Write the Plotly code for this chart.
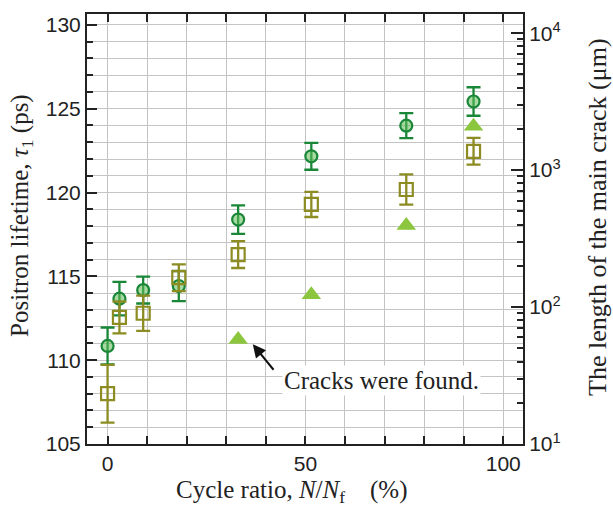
import plotly.graph_objects as go

# ---- data ----
cycle_ratio = [0, 3, 9, 18, 33, 51.5, 75.5, 92.5]
lifetime_circle = [110.85, 113.67, 114.18, 114.42, 118.39, 122.16, 123.99, 125.43]
lifetime_circle_err = [1.1, 1.0, 0.8, 0.9, 0.85, 0.8, 0.75, 0.85]
lifetime_square = [108.0, 112.55, 112.8, 114.92, 116.3, 119.29, 120.18, 122.46]
lifetime_square_err = [1.72, 0.95, 1.05, 0.8, 0.8, 0.75, 0.9, 0.8]
crack_ratio = [33, 51.5, 75.5, 92.5]
crack_length = [58, 123, 394, 2094]

x_tick_labels = ["0", "50", "100"]
y2_tick_vals = [10, 100, 1000, 10000]
y2_tick_text = ["10<sup>1</sup>", "10<sup>2</sup>", "10<sup>3</sup>", "10<sup>4</sup>"]
y2_minor_vals = [m * 10 ** k for k in range(1, 4) for m in range(2, 10)]

SANS = "Liberation Sans, Arial, sans-serif"
SERIF = "Liberation Serif, Times New Roman, serif"
DARK_GREEN = "rgb(25,135,55)"
OLIVE = "rgb(140,140,35)"
LIGHT_GREEN = "rgb(140,198,63)"
GRID = "#c4c4c4"

fig = go.Figure()

fig.add_trace(go.Scatter(
    x=cycle_ratio, y=lifetime_circle, mode="markers",
    error_y=dict(type="data", array=lifetime_circle_err, color=DARK_GREEN,
                 thickness=2.3, width=7),
    marker=dict(symbol="circle", size=12, color="rgba(95,185,85,0.55)",
                line=dict(color=DARK_GREEN, width=2.2)),
    showlegend=False))

fig.add_trace(go.Scatter(
    x=cycle_ratio, y=lifetime_square, mode="markers",
    error_y=dict(type="data", array=lifetime_square_err, color=OLIVE,
                 thickness=2.3, width=7),
    marker=dict(symbol="square-open", size=13, color=OLIVE,
                line=dict(color=OLIVE, width=2.2)),
    showlegend=False))

fig.add_trace(go.Scatter(
    x=crack_ratio, y=crack_length, mode="markers", yaxis="y2",
    marker=dict(symbol="triangle-up", size=17, color=LIGHT_GREEN),
    showlegend=False))

fig.update_layout(
    width=613, height=507,
    margin=dict(l=87, r=90, t=14, b=63),
    paper_bgcolor="white", plot_bgcolor="white",
    font=dict(family=SANS, size=21, color="#222"),
    xaxis=dict(
        range=[-5.2, 105], tickmode="array",
        tickvals=[0, 50, 100], ticktext=x_tick_labels,
        ticks="inside", ticklen=8, tickwidth=1.5, tickcolor="#222",
        showline=True, linecolor="#222", linewidth=2, mirror="ticks",
        showgrid=True, gridcolor=GRID, gridwidth=1.2,
        minor=dict(dtick=10, tick0=0, ticks="inside", ticklen=8, tickwidth=1.5,
                   tickcolor="#222", showgrid=True, gridcolor=GRID, gridwidth=1.2),
        zeroline=False, tickfont=dict(family=SANS, size=21, color="#222"),
    ),
    yaxis=dict(
        range=[105, 130.65], dtick=5, tick0=105,
        ticks="inside", ticklen=10, tickwidth=1.5, tickcolor="#222",
        showline=True, linecolor="#222", linewidth=2,
        showgrid=True, gridcolor=GRID, gridwidth=1.2,
        minor=dict(dtick=1, ticks="inside", ticklen=6, tickwidth=1.5,
                   tickcolor="#222", showgrid=True, gridcolor=GRID, gridwidth=1.2),
        zeroline=False, tickfont=dict(family=SANS, size=21, color="#222"),
    ),
    yaxis2=dict(
        type="log", range=[1, 4.14], overlaying="y", side="right",
        tickmode="array", tickvals=y2_tick_vals, ticktext=y2_tick_text,
        ticks="inside", ticklen=12, tickwidth=1.5, tickcolor="#222",
        showline=True, linecolor="#222", linewidth=2,
        showgrid=False, zeroline=False,
        minor=dict(tickmode="array", tickvals=y2_minor_vals, ticks="inside",
                   ticklen=6, tickwidth=1.5, tickcolor="#222", showgrid=False),
        tickfont=dict(family=SANS, size=21, color="#222"),
    ),
)

# axis titles
fig.add_annotation(
    text="Cycle ratio, <i>N</i>/<i>N</i><sub>f</sub>\u00a0\u00a0\u00a0\u00a0(%)",
    xref="paper", yref="paper", x=(292 - 87) / (523 - 87), y=-(491 - 444) / 430,
    xanchor="center", yanchor="middle", showarrow=False,
    font=dict(family=SERIF, size=25, color="#222"))
fig.add_annotation(
    text="Positron lifetime, <i>τ</i><sub>1</sub> (ps)",
    xref="paper", yref="paper", x=-(87 - 21) / 436, y=(444 - 216) / 430,
    xanchor="center", yanchor="middle", textangle=-90, showarrow=False,
    font=dict(family=SERIF, size=25, color="#222"))
fig.add_annotation(
    text="The length of the main crack (μm)",
    xref="paper", yref="paper", x=(597 - 87) / 436, y=(444 - 217) / 430,
    xanchor="center", yanchor="middle", textangle=-90, showarrow=False,
    font=dict(family=SERIF, size=26, color="#222"))

# "Cracks were found." note with arrow
fig.add_annotation(
    x=36.7, y=110.95, xref="x", yref="y", text="", showarrow=True,
    ax=22, ay=27, arrowhead=2, arrowsize=1.3, arrowwidth=2, arrowcolor="#111")
fig.add_annotation(
    x=44.0, y=108.8, xref="x", yref="y", text="Cracks were found.",
    showarrow=False, xanchor="left", yanchor="middle", bgcolor="white",
    font=dict(family=SERIF, size=25, color="#222"))

fig.write_html("out.html", config={"displayModeBar": False},
               post_script="document.body.style.margin='0';document.body.style.overflow='hidden';")
